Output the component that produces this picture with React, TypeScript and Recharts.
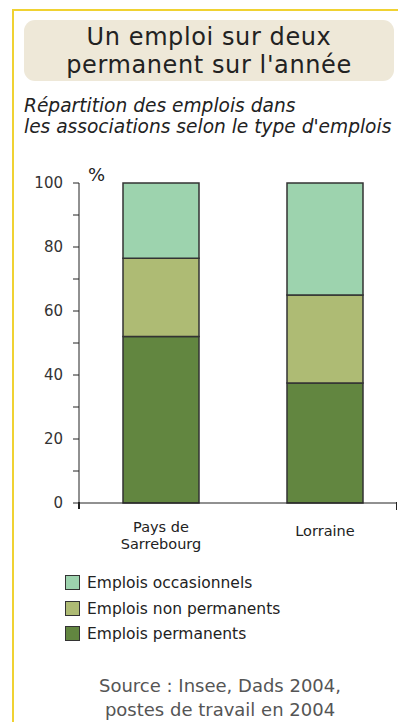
import { BarChart, Bar, XAxis, YAxis, Legend } from 'recharts'

const categories = ['Pays de\nSarrebourg', 'Lorraine']
const permanents = [52, 37.5]
const nonPermanents = [24.5, 27.5]
const occasionnels = [23.5, 35]
const yTicks = [0, 10, 20, 30, 40, 50, 60, 70, 80, 90, 100]

const SERIES = [
  { key: 'permanents', name: 'Emplois permanents', color: '#628640' },
  { key: 'nonPermanents', name: 'Emplois non permanents', color: '#aebb74' },
  { key: 'occasionnels', name: 'Emplois occasionnels', color: '#9dd3ae' }
]

const data = categories.map((c, i) => ({
  name: c,
  permanents: permanents[i],
  nonPermanents: nonPermanents[i],
  occasionnels: occasionnels[i]
}))

const FONT = '"DejaVu Sans", sans-serif'

const YTick = ({ x, y, payload }: any) => {
  if (payload.value % 20 !== 0) return null
  return (
    <text x={x - 8} y={y} dy={5} textAnchor="end" fontSize={15} fontFamily={FONT} fill="#333">
      {payload.value}
    </text>
  )
}

const XTick = ({ x, y, payload }: any) => {
  const lines = String(payload.value).split('\n')
  const first = lines.length > 1 ? 21 : 25
  return (
    <g>
      {lines.map((l, i) => (
        <text key={i} x={x} y={y + first + i * 17} textAnchor="middle" fontSize={14.5} fontFamily={FONT} fill="#222">
          {l}
        </text>
      ))}
    </g>
  )
}

const LegendBox = () => (
  <div style={{ fontFamily: FONT, fontSize: 15.5, color: '#222' }}>
    {[...SERIES].reverse().map((s, i) => (
      <div key={s.key} style={{ display: 'flex', alignItems: 'center', height: i === 0 ? 27 : 25 }}>
        <span style={{ width: 13, height: 13, background: s.color, border: '1.5px solid #333', marginRight: 7 }} />
        {s.name}
      </div>
    ))}
  </div>
)

const titleLine = { fontSize: 24, lineHeight: '28px', letterSpacing: 0.6, height: 28, whiteSpace: 'nowrap' as const }

export default function App() {
  return (
    <div style={{ position: 'absolute', left: 0, top: 0, width: 398, height: 722, overflow: 'hidden', background: '#fff', fontFamily: FONT }}>
      <div style={{ position: 'absolute', left: 12, top: 9, right: 0, height: 2, background: '#f0d232' }} />
      <div style={{ position: 'absolute', left: 12, top: 9, width: 2, bottom: 0, background: '#f0d232' }} />

      <div style={{ position: 'absolute', left: 24, top: 20, width: 370, height: 61, borderRadius: 11, background: '#eee8d8', color: '#222', textAlign: 'center', paddingTop: 3, boxSizing: 'border-box' }}>
        <div style={titleLine}>Un emploi sur deux</div>
        <div style={titleLine}>permanent sur l'année</div>
      </div>

      <div style={{ position: 'absolute', left: 24, top: 95, fontStyle: 'italic', fontSize: 18.6, lineHeight: '21px', color: '#222', whiteSpace: 'nowrap' }}>
        Répartition des emplois dans<br />les associations selon le type d'emplois
      </div>

      <div style={{ position: 'absolute', left: 0, top: 160, width: 397, height: 500, overflow: 'hidden' }}>
        <BarChart width={410} height={500} data={data} margin={{ top: 23, right: 3, left: 0, bottom: 117 }}>
          <XAxis dataKey="name" height={40} stroke="#222" tickLine={false} tick={<XTick />} interval={0} />
          <YAxis
            width={79}
            domain={[0, 100]}
            ticks={yTicks}
            interval={0}
            stroke="#222"
            tickSize={6}
            tick={<YTick />}
            label={({ viewBox }: any) => (
              <text x={viewBox.x + viewBox.width + 9} y={viewBox.y - 2} fontSize={18} fontFamily={FONT} fill="#222">%</text>
            )}
          />
          <Legend
            layout="vertical"
            align="center"
            verticalAlign="middle"
            wrapperStyle={{ top: 409, left: 65, width: 260 }}
            content={<LegendBox />}
          />
          {SERIES.map(s => (
            <Bar key={s.key} dataKey={s.key} name={s.name} stackId="a" fill={s.color} stroke="#333" strokeWidth={1.5} barSize={76} isAnimationActive={false} />
          ))}
        </BarChart>
        <div style={{ position: 'absolute', left: 78, top: 342, width: 1.5, height: 7, background: '#222' }} />
        <div style={{ position: 'absolute', left: 395.5, top: 342, width: 1.5, height: 8, background: '#222' }} />
      </div>

      <div style={{ position: 'absolute', left: 40, width: 360, top: 674, textAlign: 'center', fontSize: 18, lineHeight: '24px', color: '#555' }}>
        Source : Insee, Dads 2004,<br />postes de travail en 2004
      </div>
    </div>
  )
}
